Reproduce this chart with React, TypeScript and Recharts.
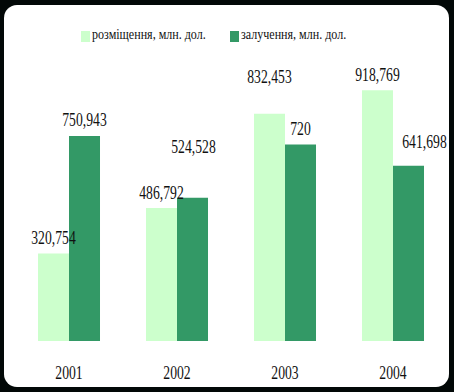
import React from 'react';
import { BarChart, Bar, XAxis, YAxis, LabelList } from 'recharts';

const years = ['2001', '2002', '2003', '2004'];
const placement = [320.754, 486.792, 832.453, 918.769];
const attraction = [750.943, 524.528, 720, 641.698];
const placementName = 'розміщення, млн. дол.';
const attractionName = 'залучення, млн. дол.';

const data = years.map((y, i) => ({ year: y, placement: placement[i], attraction: attraction[i] }));

// label nudges (dx, dy) to match the hand-moved labels of the original
const placementNudge = [[0, 0], [0, 0], [0, -21], [0, 0]];
const attractionNudge = [[0, 0], [1, -35], [0, 0], [16, -8]];

const LIGHT = '#ccffcc';
const DARK = '#339966';
const FONT = '"Liberation Serif", "Times New Roman", serif';
const SQUEEZE = 0.72;

const fmt = (v: number) => String(v).replace('.', ',');

const makeLabel = (nudge: number[][]) => (props: any) => {
    const { x, y, width, value, index } = props;
    const [dx, dy] = nudge[index] || [0, 0];
    const cx = x + width / 2 + dx;
    const base = y - 16 + dy + 6.5;
    return (
        <text
            transform={`translate(${cx},${base}) scale(${SQUEEZE},1)`}
            textAnchor="middle"
            fontFamily={FONT}
            fontSize={19}
            fill="#111"
        >
            {fmt(value)}
        </text>
    );
};

const YearTick = (props: any) => {
    const { x, payload } = props;
    return (
        <text
            transform={`translate(${x},379) scale(${SQUEEZE},1)`}
            textAnchor="middle"
            fontFamily={FONT}
            fontSize={19}
            fill="#111"
        >
            {payload.value}
        </text>
    );
};

const LegendItem: React.FC<{ color: string; label: string; left: number }> = ({ color, label, left }) => (
    <div style={{ position: 'absolute', left, top: 31, display: 'flex', alignItems: 'flex-start' }}>
        <div style={{ width: 9, height: 11, background: color }} />
        <span
            style={{
                marginLeft: 2,
                marginTop: -4,
                fontFamily: FONT,
                fontSize: 14,
                color: '#111',
                whiteSpace: 'nowrap',
                display: 'inline-block',
                transform: 'scaleX(0.86)',
                transformOrigin: 'left',
            }}
        >
            {label}
        </span>
    </div>
);

export default function App() {
    return (
        <div style={{ position: 'fixed', left: 0, top: 0, width: 454, height: 392, background: '#020807' }}>
            <div
                style={{
                    position: 'absolute',
                    left: 4,
                    top: 5,
                    width: 445,
                    height: 382,
                    background: '#fff',
                    borderRadius: 13,
                }}
            />
            <div style={{ position: 'absolute', left: 0, top: 0 }}>
                <BarChart
                    width={454}
                    height={392}
                    data={data}
                    margin={{ top: 68, right: 7, bottom: 0, left: 15 }}
                    barCategoryGap="21.3%"
                    barGap={0}
                >
                    <XAxis dataKey="year" axisLine={false} tickLine={false} height={51} tick={<YearTick />} interval={0} />
                    <YAxis hide domain={[0, 1000]} />
                    <Bar dataKey="placement" fill={LIGHT} isAnimationActive={false}>
                        <LabelList dataKey="placement" content={makeLabel(placementNudge)} />
                    </Bar>
                    <Bar dataKey="attraction" fill={DARK} isAnimationActive={false}>
                        <LabelList dataKey="attraction" content={makeLabel(attractionNudge)} />
                    </Bar>
                </BarChart>
            </div>
            <LegendItem color={LIGHT} label={placementName} left={81} />
            <LegendItem color={DARK} label={attractionName} left={230} />
        </div>
    );
}
